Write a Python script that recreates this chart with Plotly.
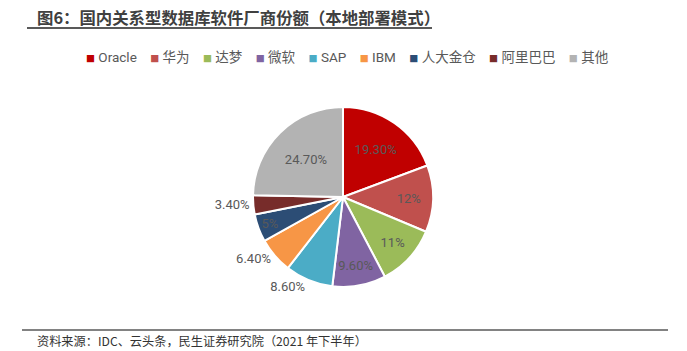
import plotly.graph_objects as go

labels = ["Oracle", "华为", "达梦", "微软", "SAP", "IBM", "人大金仓", "阿里巴巴", "其他"]
values = [19.3, 12, 11, 9.6, 8.6, 6.4, 5, 3.4, 24.7]
text_labels = ["19.30%", "12%", "11%", "9.60%", "8.60%", "6.40%", "5%", "3.40%", "24.70%"]
text_pos = ["inside", "inside", "inside", "inside", "outside", "outside", "inside", "outside", "inside"]
colors = ["#C00000", "#C0504D", "#9BBB59", "#8064A2", "#4BACC6", "#F79646", "#2C4D75", "#772C2A", "#B3B3B3"]

FONT = "Noto Sans CJK SC, Noto Sans, sans-serif"
FONT_MIX = "Roboto, Noto Sans CJK SC, sans-serif"

fig = go.Figure(go.Pie(
    labels=labels, values=values, text=text_labels, textinfo="text",
    textposition=text_pos, sort=False, direction="clockwise", rotation=0,
    marker=dict(colors=colors, line=dict(color="white", width=2)),
    insidetextorientation="horizontal",
    textfont=dict(family=FONT_MIX, size=13, color="#595959"),
    domain=dict(x=[253/687, 433/687], y=[1-287/351, 1-107/351]),
    showlegend=False,
))

# legend drawn as one rich-text line
legend_items = [
    f"<span style='color:{c};font-size:9px'>■</span> {lab}" for lab, c in zip(labels, colors)
]
legend_text = "    ".join(legend_items)

fig.update_layout(
    width=687, height=351, margin=dict(l=0, r=0, t=0, b=0),
    paper_bgcolor="white", plot_bgcolor="white",
    font=dict(family=FONT, color="#595959"),
    annotations=[
        dict(text="<b>图6：国内关系型数据库软件厂商份额（本地部署模式）</b>", x=35/687, y=1-17/351,
             xref="paper", yref="paper", xanchor="left", yanchor="middle", showarrow=False,
             font=dict(family=FONT, size=16.4, color="#404040")),
        dict(text=legend_text, x=84/687, y=1-57/351,
             xref="paper", yref="paper", xanchor="left", yanchor="middle", showarrow=False,
             font=dict(family=FONT_MIX, size=13.5, color="#595959")),
        dict(text="资料来源：IDC、云头条，民生证券研究院（2021 年下半年）", x=35/687, y=1-341/351,
             xref="paper", yref="paper", xanchor="left", yanchor="middle", showarrow=False,
             font=dict(family=FONT, size=12.2, color="#333333")),
    ],
    shapes=[
        dict(type="line", xref="paper", yref="paper", x0=27/687, x1=432/687, y0=1-28/351, y1=1-28/351,
             line=dict(color="#595959", width=2)),
        dict(type="line", xref="paper", yref="paper", x0=22/687, x1=668/687, y0=1-330/351, y1=1-330/351,
             line=dict(color="#595959", width=1.5)),
    ],
)

fig.write_html("out.html")
